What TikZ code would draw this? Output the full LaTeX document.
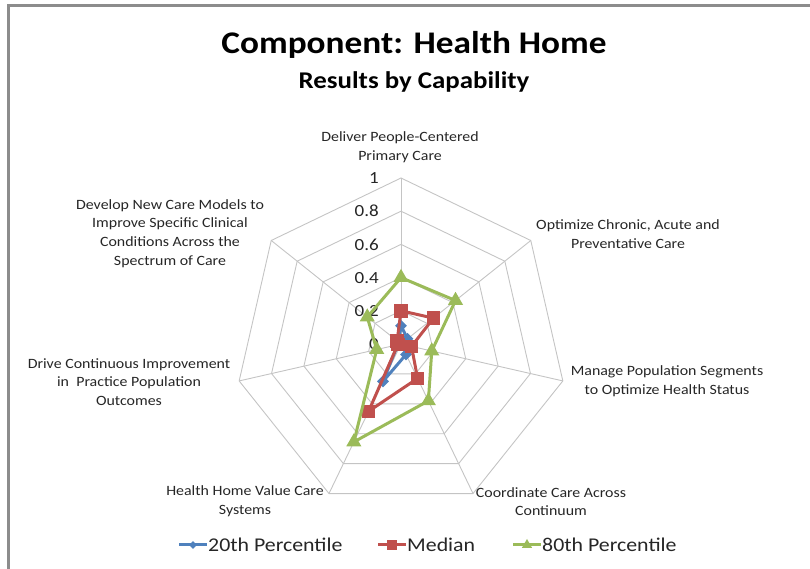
\documentclass[tikz,border=0pt]{standalone}
\usepackage{fontspec}
\setmainfont[FakeStretch=1.12]{Carlito}
\usetikzlibrary{positioning,shapes.geometric}

\definecolor{gridgray}{RGB}{196,196,196}
\definecolor{framegray}{RGB}{140,140,140}
\definecolor{pblue}{RGB}{79,129,189}
\definecolor{pred}{RGB}{192,80,77}
\definecolor{pgreen}{RGB}{155,187,89}
\newcommand{\rad}{166}

\begin{document}
\begin{tikzpicture}[x=1pt,y=1pt,
    gridline/.style={draw=gridgray,line width=0.9pt},
    axislabel/.style={align=center,text=black!85,font=\fontsize{14.2}{18.7}\selectfont},
    ticklabel/.style={anchor=east,inner sep=0pt,text=black!85,font=\fontsize{17}{17}\selectfont},
    series/.style={line width=3pt,line join=round},
    bluemark/.style={diamond,fill=pblue,inner sep=0pt,minimum size=12pt},
    redmark/.style={rectangle,fill=pred,inner sep=0pt,minimum size=13.5pt},
    greenmark/.style={regular polygon,regular polygon sides=3,fill=pgreen,inner sep=0pt,minimum size=17.5pt},
    legendtext/.style={anchor=west,inner sep=1pt,text=black!85,font=\fontsize{19.5}{20}\selectfont}]
    \useasboundingbox (0,0) rectangle (810,569);
    \draw[framegray,line width=2.4pt] (8.5,0) -- (8.5,563.5) -- (810,563.5);

    \node[font=\fontsize{31.5}{36}\selectfont\bfseries] (title) at (414,524) {Component: Health Home};
    \node[font=\fontsize{24}{28}\selectfont\bfseries] (subtitle) at (414,487) {Results by Capability};

    \begin{scope}[shift={(401,225)}]
      % web
      \foreach \r in {0.2,0.4,0.6,0.8,1}
        \draw[gridline] (90:\r*\rad) \foreach \k in {1,...,6} { -- ({90-\k*360/7}:\r*\rad) } -- cycle;
      \foreach \k in {0,...,6}
        \draw[gridline] (0,0) -- ({90-\k*360/7}:\rad);
      \foreach \t [count=\i] in {0,0.2,0.4,0.6,0.8,1}
        \node[ticklabel] (tick\i) at (-22,\t*\rad) {\t};

      % series
      \foreach \v [count=\k from 0] in {0.11,0.05,0.02,0.07,0.25,0.02,0.02}
        \coordinate (b\k) at ({90-\k*360/7}:\v*\rad);
      \foreach \v [count=\k from 0] in {0.2,0.25,0.065,0.23,0.45,0.02,0.03}
        \coordinate (m\k) at ({90-\k*360/7}:\v*\rad);
      \foreach \v [count=\k from 0] in {0.4,0.42,0.19,0.38,0.655,0.15,0.26}
        \coordinate (g\k) at ({90-\k*360/7}:\v*\rad);

      \draw[series,pblue] (b0) \foreach \k in {1,...,6} { -- (b\k) } -- cycle;
      \foreach \k in {0,...,6} \node[bluemark] (bm\k) at (b\k) {};
      \draw[series,pred] (m0) \foreach \k in {1,...,6} { -- (m\k) } -- cycle;
      \foreach \k in {0,...,6} \node[redmark] (mm\k) at (m\k) {};
      \draw[series,pgreen] (g0) \foreach \k in {1,...,6} { -- (g\k) } -- cycle;
      \foreach \k in {0,...,6} \node[greenmark] (gm\k) at (g\k) {};
    \end{scope}

    % capability labels
    \node[axislabel] (cap1) at (400,422) {Deliver People-Centered\\Primary Care};
    \node[axislabel] (cap2) at (628,335) {Optimize Chronic, Acute and\\Preventative Care};
    \node[axislabel] (cap3) at (667,188) {Manage Population Segments\\to Optimize Health Status};
    \node[axislabel] (cap4) at (551,67.5) {Coordinate Care Across\\Continuum};
    \node[axislabel] (cap5) at (245,67.5) {Health Home Value Care\\Systems};
    \node[axislabel] (cap6) at (129,187) {Drive Continuous Improvement\\in~ Practice Population\\Outcomes};
    \node[axislabel] (cap7) at (170,335.5) {Develop New Care Models to\\Improve Specific Clinical\\Conditions Across the\\Spectrum of Care};

    % legend
    \coordinate (lb) at (179,24);
    \node[legendtext] (leg20) at (207,24) {20th Percentile};
    \coordinate (lm) at (378,24);
    \node[legendtext] (legmed) at (406,24) {Median};
    \coordinate (lg) at (513,24);
    \node[legendtext] (leg80) at (541,24) {80th Percentile};
    \draw[series,pblue] (lb) -- (leg20.west) node[midway,bluemark,minimum size=9pt] (lbm) {};
    \draw[series,pred] (lm) -- (legmed.west) node[midway,redmark,minimum size=10pt] (lmm) {};
    \draw[series,pgreen] (lg) -- (leg80.west) node[midway,greenmark,minimum size=12pt] (lgm) {};
\end{tikzpicture}
\end{document}
